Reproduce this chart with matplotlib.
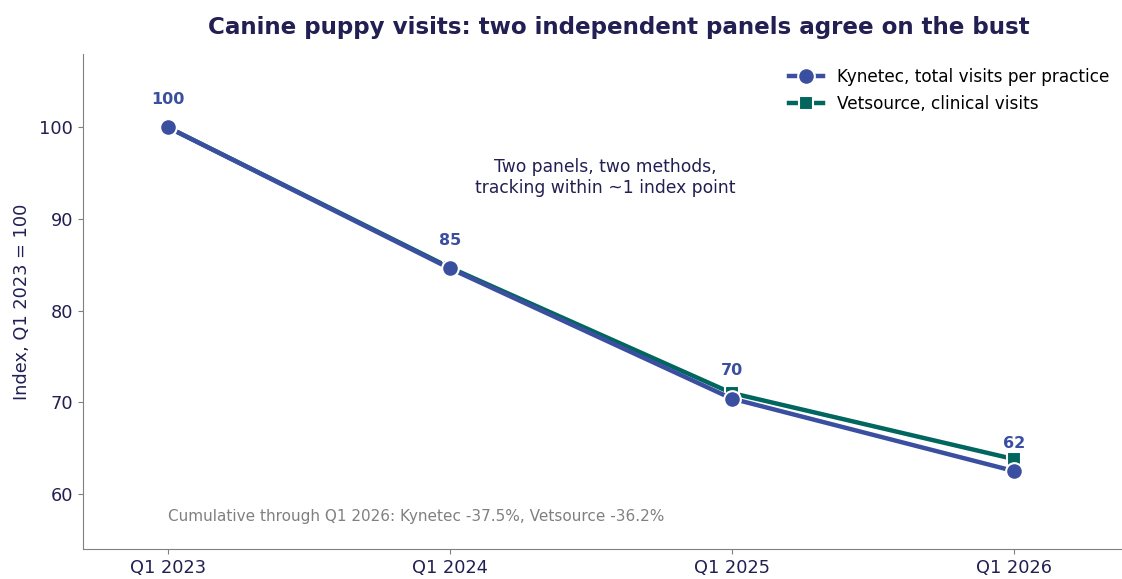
import matplotlib.pyplot as plt

quarters = ['Q1 2023', 'Q1 2024', 'Q1 2025', 'Q1 2026']
kynetec = [100, 84.6, 70.4, 62.5]
vetsource = [100, 84.7, 71.0, 63.8]

navy = '#221f52'
blue = '#3a4fa0'
green = '#00665e'

fig, ax = plt.subplots(figsize=(11.22, 5.79), dpi=100)
fig.subplots_adjust(left=0.074, right=0.999, bottom=0.052, top=0.907)

x = range(len(quarters))
ax.plot(x, vetsource, color=green, lw=3.2, marker='s', ms=10,
        mec='white', mew=1.5, label='Vetsource, clinical visits', zorder=2)
ax.plot(x, kynetec, color=blue, lw=3.2, marker='o', ms=12,
        mec='white', mew=1.5, label='Kynetec, total visits per practice', zorder=3)

for xi, v in zip(x, kynetec):
    ax.annotate(f'{v:.0f}', (xi, v), xytext=(0, 20), textcoords='offset points',
                ha='center', va='center', color=blue, fontsize=11.5, fontweight='bold')

ax.text(1.55, 94.5, 'Two panels, two methods,\ntracking within ~1 index point',
        ha='center', va='center', color=navy, fontsize=12.3)
ax.text(0, 57.5, 'Cumulative through Q1 2026: Kynetec -37.5%, Vetsource -36.2%',
        ha='left', va='center', color='gray', fontsize=11)

ax.set_title('Canine puppy visits: two independent panels agree on the bust',
             color=navy, fontsize=16.6, fontweight='bold', pad=14.5, x=0.516)
ax.set_ylabel('Index, Q1 2023 = 100', color=navy, fontsize=12.8, labelpad=6)
ax.set_xticks(list(x))
ax.set_xticklabels(quarters)
ax.set_yticks([60, 70, 80, 90, 100])
ax.set_xlim(-0.3, 3.38)
ax.set_ylim(54, 108)
ax.tick_params(colors=navy, labelsize=12.8)
ax.tick_params(color='gray')
for s in ['top', 'right']:
    ax.spines[s].set_visible(False)
for s in ['left', 'bottom']:
    ax.spines[s].set_color('gray')

h, l = ax.get_legend_handles_labels()
ax.legend(h[::-1], l[::-1], loc='upper right', bbox_to_anchor=(1.0, 0.995),
          frameon=False, fontsize=12.2, handlelength=2.0, borderaxespad=0.3)

fig.savefig('out.png')
